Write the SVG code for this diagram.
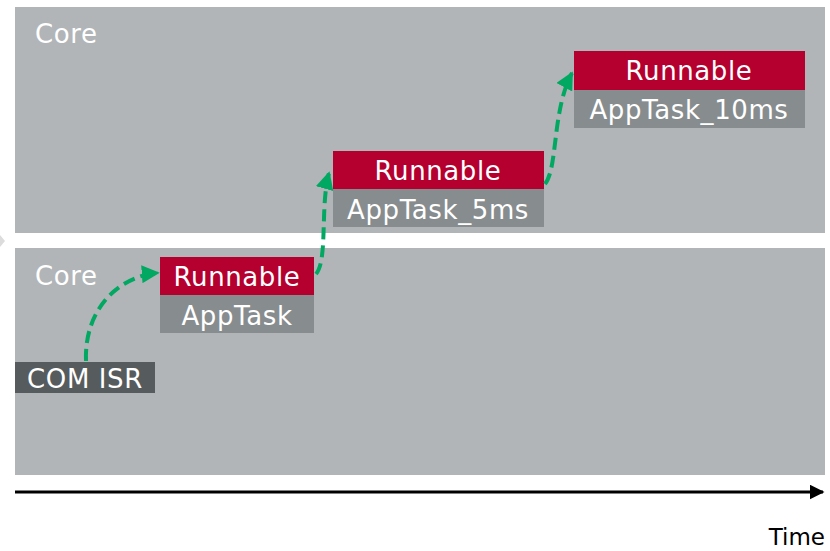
<svg xmlns="http://www.w3.org/2000/svg" width="830" height="551" viewBox="0 0 830 551">
<defs>
<style>
.panel{fill:#b1b5b8}
.run{fill:#b5002f}
.task{fill:#878c8e}
.isr{fill:#565b5d}
.t{font-family:"DejaVu Sans",Verdana,sans-serif;font-size:26px;letter-spacing:0.6px;fill:#ffffff}
.c{text-anchor:middle}
.flow{fill:none;stroke:#00a862;stroke-width:4;stroke-dasharray:12 6}
</style>
<marker id="ga" viewBox="0 0 10 10" refX="9" refY="5" markerWidth="4.5" markerHeight="4.5" orient="auto" markerUnits="strokeWidth">
<path d="M0,0 L10,5 L0,10 z" fill="#00a862"/>
</marker>
<marker id="ka" viewBox="0 0 10 10" refX="9" refY="5" markerWidth="5" markerHeight="5" orient="auto" markerUnits="strokeWidth">
<path d="M0,0 L10,5 L0,10 z" fill="#000"/>
</marker>
</defs>
<rect width="830" height="551" fill="#fff"/>
<polygon points="0,235 5,241 0,247" fill="#dcdcdc"/>
<g id="core-top">
<rect class="panel" x="15" y="7" width="810" height="226"/>
<text class="t" x="35" y="43">Core</text>
</g>
<g id="core-bottom">
<rect class="panel" x="15" y="248" width="810" height="227"/>
<text class="t" x="35" y="285">Core</text>
</g>
<g id="com-isr">
<rect class="isr" x="15" y="362" width="140" height="31"/>
<text class="t" x="85" y="388" text-anchor="middle">COM ISR</text>
</g>
<g id="apptask">
<rect class="run" x="160" y="257" width="154" height="38"/>
<rect class="task" x="160" y="295" width="154" height="38"/>
<text class="t c" x="237" y="286">Runnable</text>
<text class="t c" x="237" y="325">AppTask</text>
</g>
<g id="apptask-5ms">
<rect class="run" x="333" y="151" width="211" height="38"/>
<rect class="task" x="333" y="189" width="211" height="38"/>
<text class="t c" x="438" y="180">Runnable</text>
<text class="t c" x="438" y="219">AppTask_5ms</text>
</g>
<g id="apptask-10ms">
<rect class="run" x="574" y="51" width="231" height="39"/>
<rect class="task" x="574" y="90" width="231" height="38"/>
<text class="t c" x="689" y="80">Runnable</text>
<text class="t c" x="689" y="119">AppTask_10ms</text>
</g>
<g id="connectors">
<path class="flow" d="M86,361 C84,310 118,276 158,273" marker-end="url(#ga)"/>
<path class="flow" d="M316,274 C328,260 320,205 329,173" marker-end="url(#ga)"/>
<path class="flow" d="M545,184 C558,168 552,110 572,73" marker-end="url(#ga)"/>
<line x1="15" y1="492" x2="823" y2="492" stroke="#000" stroke-width="3" marker-end="url(#ka)"/>
</g>
<text x="825" y="545" text-anchor="end" style="font-family:'DejaVu Sans',Verdana,sans-serif;font-size:23px;fill:#000">Time</text>
</svg>
